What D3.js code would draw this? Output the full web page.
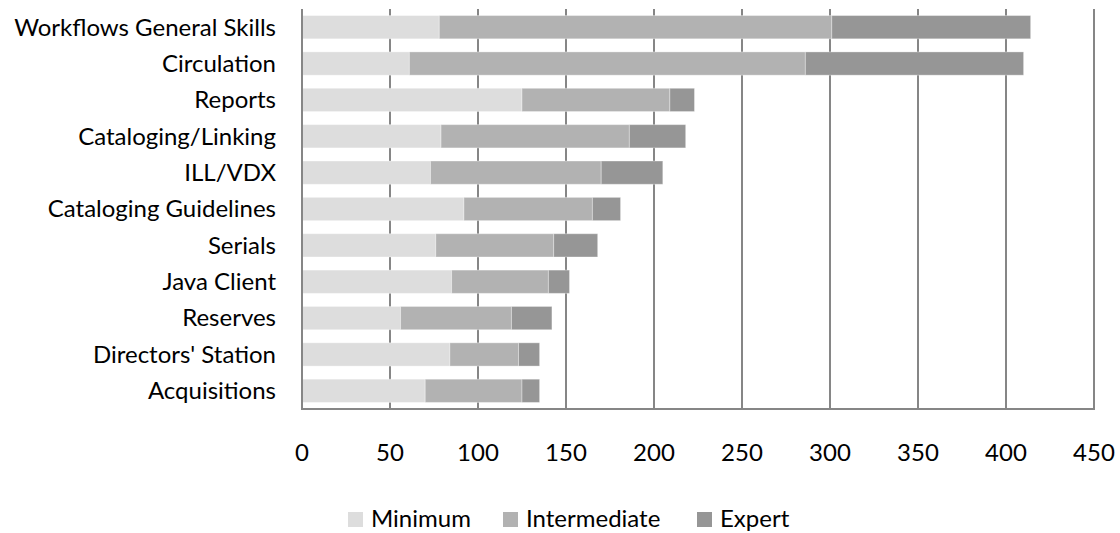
<!DOCTYPE html>
<html>
<head>
<meta charset="utf-8">
<script src="https://cdn.jsdelivr.net/npm/d3@7/dist/d3.min.js"></script>
<style>
  html, body { margin: 0; padding: 0; background: #fff; }
  svg text { font-family: Lato, "Open Sans", sans-serif; fill: #000; }
</style>
</head>
<body>
<svg id="chart" width="1120" height="533"></svg>
<script>
// Training needs by module, split by skill level
const categories = [
  "Workflows General Skills", "Circulation", "Reports", "Cataloging/Linking",
  "ILL/VDX", "Cataloging Guidelines", "Serials", "Java Client",
  "Reserves", "Directors' Station", "Acquisitions"
];
const minimum      = [78, 61, 125, 79, 73, 92, 76, 85, 56, 84, 70];
const intermediate = [223, 225, 84, 107, 97, 73, 67, 55, 63, 39, 55];
const expert       = [113, 124, 14, 32, 35, 16, 25, 12, 23, 12, 10];
const seriesNames  = ["Minimum", "Intermediate", "Expert"];
const xTicks       = [0, 50, 100, 150, 200, 250, 300, 350, 400, 450];

const colors = ["#dddddd", "#b2b2b2", "#969696"];

const svg = d3.select("#chart");
const margin = { top: 9, left: 302, right: 26, bottom: 124 };
const W = 1120, H = 533;
const fontSize = 24;

const x = d3.scaleLinear().domain([0, 450]).range([margin.left, W - margin.right]);
const y = d3.scaleBand().domain(categories).range([margin.top, H - margin.bottom]).paddingInner(0.36).paddingOuter(0.18);

const rows = categories.map((c, i) => ({ cat: c, Minimum: minimum[i], Intermediate: intermediate[i], Expert: expert[i] }));
const stacked = d3.stack().keys(seriesNames)(rows);

// vertical gridlines
svg.append("g")
  .selectAll("line")
  .data(xTicks.slice(1))
  .join("line")
  .attr("x1", d => x(d)).attr("x2", d => x(d))
  .attr("y1", margin.top).attr("y2", H - margin.bottom)
  .attr("stroke", "#868686").attr("stroke-width", 2);

// stacked bars
svg.append("g")
  .selectAll("g")
  .data(stacked)
  .join("g")
  .attr("fill", (d, i) => colors[i])
  .selectAll("rect")
  .data(d => d)
  .join("rect")
  .attr("x", d => x(d[0]))
  .attr("width", d => x(d[1]) - x(d[0]))
  .attr("y", d => y(d.data.cat))
  .attr("height", y.bandwidth())
  .attr("stroke", "rgba(255,255,255,0.35)")
  .attr("stroke-width", 1);

// axis lines
svg.append("line")
  .attr("x1", x(0)).attr("x2", x(0))
  .attr("y1", margin.top).attr("y2", H - margin.bottom)
  .attr("stroke", "#868686").attr("stroke-width", 2);
svg.append("line")
  .attr("x1", x(0) - 1).attr("x2", x(450) + 1)
  .attr("y1", H - margin.bottom).attr("y2", H - margin.bottom)
  .attr("stroke", "#868686").attr("stroke-width", 2);

// category labels
svg.append("g")
  .selectAll("text")
  .data(categories)
  .join("text")
  .attr("x", 276)
  .attr("y", d => y(d) + y.bandwidth() / 2)
  .attr("dy", "0.35em")
  .attr("text-anchor", "end")
  .attr("font-size", fontSize)
  .text(d => d);

// value labels on x
svg.append("g")
  .selectAll("text")
  .data(xTicks)
  .join("text")
  .attr("x", d => x(d))
  .attr("y", 461)
  .attr("text-anchor", "middle")
  .attr("font-size", fontSize)
  .text(d => d);

// legend
const legendX = [348, 503, 697];
const lg = svg.append("g").selectAll("g").data(seriesNames).join("g")
  .attr("transform", (d, i) => `translate(${legendX[i]},527)`);
lg.append("rect").attr("x", 0).attr("y", -15).attr("width", 15).attr("height", 15)
  .attr("fill", (d, i) => colors[i]);
lg.append("text").attr("x", 23).attr("y", 0)
  .attr("font-size", fontSize).text(d => d);
</script>
</body>
</html>
